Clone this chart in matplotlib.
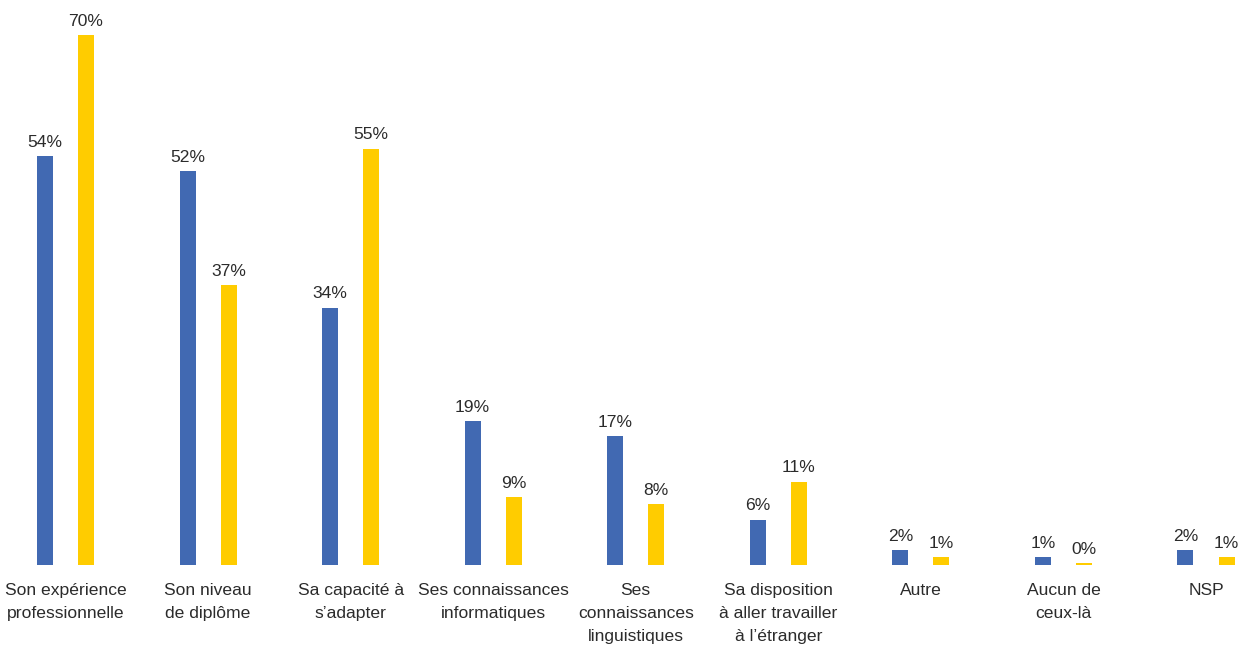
import numpy as np
import matplotlib.pyplot as plt

plt.rcParams['font.family'] = ['Liberation Sans', 'DejaVu Sans']

categories = [
    "Son expérience\nprofessionnelle",
    "Son niveau\nde diplôme",
    "Sa capacité à\ns’adapter",
    "Ses connaissances\ninformatiques",
    "Ses\nconnaissances\nlinguistiques",
    "Sa disposition\nà aller travailler\nà l’étranger",
    "Autre",
    "Aucun de\nceux-là",
    "NSP",
]
serie_bleue = [54, 52, 34, 19, 17, 6, 2, 1, 2]
serie_jaune = [70, 37, 55, 9, 8, 11, 1, 0.2, 1]

bleu = "#4169B2"
jaune = "#FFCC00"
texte = "#2b2b2b"

fig = plt.figure(figsize=(12.51, 6.5), dpi=100)
ax = fig.add_axes([0, 85 / 650, 1, 565 / 650])

x = np.arange(len(categories))
w = 0.112
dx = 0.144

b1 = ax.bar(x - dx, serie_bleue, width=w, color=bleu)
b2 = ax.bar(x + dx, serie_jaune, width=w, color=jaune)

for bars, vals in [(b1, serie_bleue), (b2, serie_jaune)]:
    for rect, v in zip(bars, vals):
        ax.annotate(f"{round(v)}%", (rect.get_x() + rect.get_width() / 2, rect.get_height()),
                    textcoords="offset points", xytext=(0, 4.5), ha="center", va="bottom",
                    fontsize=12.6, color=texte)

ax.set_xlim(-65.5 / 142.6, 8 + 45 / 142.6)
ax.set_ylim(0, 565 / 7.57)
ax.set_xticks(x)
ax.set_xticklabels(categories, fontsize=12.6, color=texte, linespacing=1.68)
ax.tick_params(axis="x", length=0, pad=13)
ax.set_yticks([])
for s in ax.spines.values():
    s.set_visible(False)

fig.savefig("out.png", dpi=100)
